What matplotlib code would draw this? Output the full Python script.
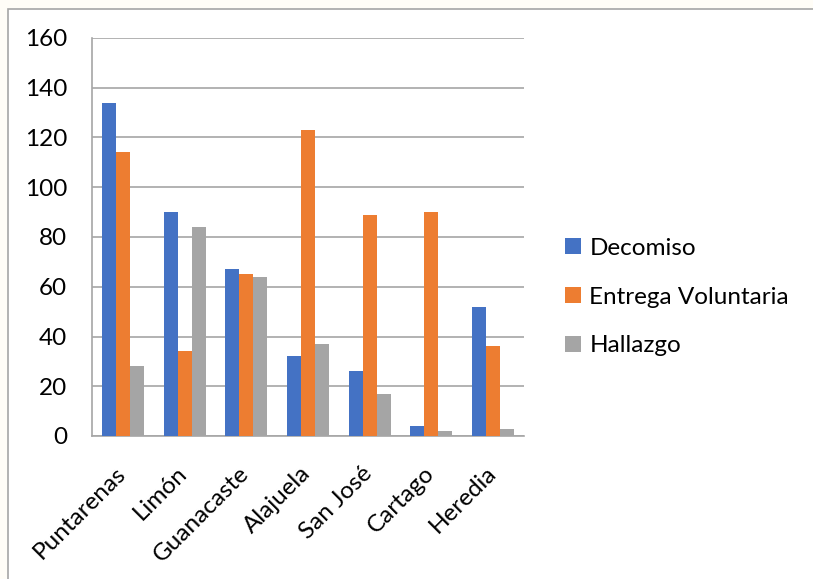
import matplotlib
matplotlib.use("Agg")
import matplotlib.pyplot as plt
import matplotlib.transforms as mtransforms
import numpy as np
from matplotlib.patches import Rectangle

categories = ["Puntarenas", "Limón", "Guanacaste", "Alajuela", "San José", "Cartago", "Heredia"]
decomiso = [134, 90, 67, 32, 26, 4, 52]
entrega = [114, 34, 65, 123, 89, 90, 36]
hallazgo = [28, 84, 64, 37, 17, 2, 3]
series_names = ["Decomiso", "Entrega Voluntaria", "Hallazgo"]
colors = ["#4472C4", "#ED7D31", "#A5A5A5"]
yticks = [0, 20, 40, 60, 80, 100, 120, 140, 160]

plt.rcParams['font.family'] = ['Lato', 'DejaVu Sans']

W, H = 813, 579
fig = plt.figure(figsize=(W / 100, H / 100), dpi=100)
fig.patch.set_facecolor("#FFFDF7")
# chart area (white box with gray border, cut at right/bottom)
fig.patches.append(Rectangle((8 / W, -0.05), 1.1, 1 - 9 / H + 0.05, transform=fig.transFigure,
                             facecolor="white", edgecolor="#A6A6A6", linewidth=1.2, zorder=-10))

ax = fig.add_axes([92 / W, 1 - 436 / H, (524 - 92) / W, (436 - 38) / H])
ax.set_zorder(5)
ax.set_facecolor("none")

x = np.arange(len(categories))
bw = 0.227
for i, (vals, name, c) in enumerate(zip([decomiso, entrega, hallazgo], series_names, colors)):
    ax.bar(x + (i - 1) * bw, vals, bw, color=c, label=name, zorder=3)

ax.set_xlim(-0.5, len(categories) - 0.5)
ax.set_ylim(0, 160)
ax.set_yticks(yticks)
ax.set_yticklabels([str(v) for v in yticks], fontsize=17.5)
ax.set_xticks(x)
ax.set_xticklabels(categories, rotation=45, ha="right", va="top", rotation_mode="anchor", fontsize=17.5)
ax.tick_params(axis="both", length=0, colors="#000000")
ax.tick_params(axis="x", pad=19)
ax.tick_params(axis="y", pad=18)
offset = mtransforms.ScaledTranslation(-8 / 100, 0, fig.dpi_scale_trans)
for lab in ax.get_xticklabels():
    lab.set_transform(lab.get_transform() + offset)
ax.grid(axis="y", color="#A6A6A6", linewidth=1.2, zorder=0)
for s in ["top", "right"]:
    ax.spines[s].set_visible(False)
for s in ["left", "bottom"]:
    ax.spines[s].set_color("#A6A6A6")
    ax.spines[s].set_linewidth(1.2)

leg = fig.legend(loc="center left", bbox_to_anchor=(565 / W, 1 - 297 / H), frameon=False,
                 fontsize=17.5, handlelength=0.65, handleheight=0.65, handletextpad=0.35,
                 labelspacing=1.15, borderaxespad=0, borderpad=0)
leg.set_zorder(6)

fig.savefig("out.png", dpi=100, facecolor=fig.get_facecolor())
